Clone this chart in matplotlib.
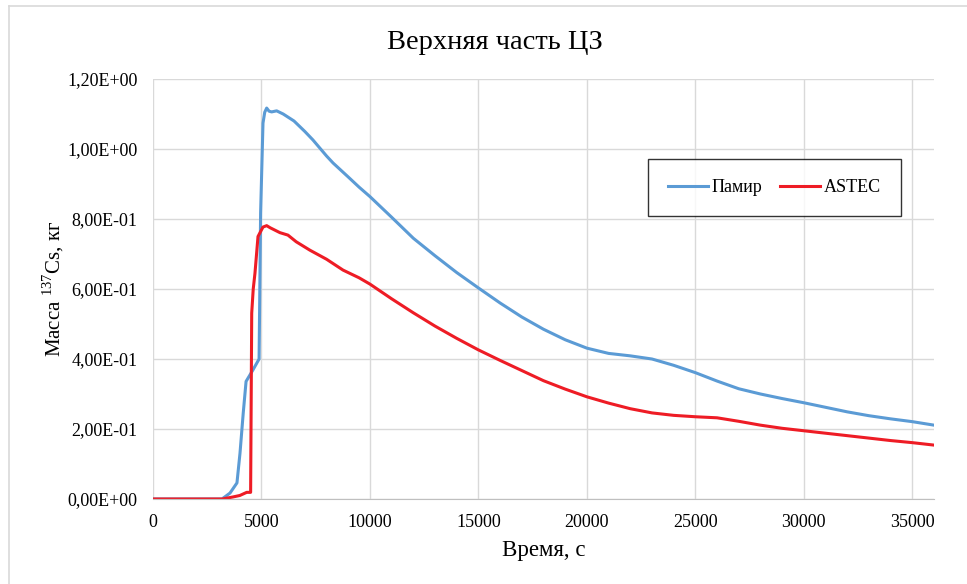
import matplotlib
matplotlib.use('Agg')
import matplotlib.pyplot as plt
from matplotlib.ticker import FuncFormatter, MultipleLocator
from matplotlib.lines import Line2D

# Верхняя часть ЦЗ - масса Cs-137
t_pamir = [0, 3180, 3550, 3870, 4010, 4160, 4290, 4600, 4890, 4960, 5070, 5150,
           5240, 5350, 5470, 5700, 6000, 6500, 7000, 7370, 8000, 8300, 9000, 9500,
           10000, 11000, 12000, 13000, 14000, 15000, 16000, 17000, 18000, 19000,
           20000, 21000, 22000, 23000, 24000, 25000, 26000, 27000, 28000, 29000,
           30000, 31000, 32000, 33000, 34000, 35000, 36000]
m_pamir = [0, 0, 0.017, 0.046, 0.131, 0.246, 0.336, 0.368, 0.40, 0.817, 1.074, 1.105,
           1.117, 1.108, 1.106, 1.109, 1.10, 1.08, 1.05, 1.026, 0.98, 0.96, 0.92, 0.891,
           0.864, 0.805, 0.745, 0.695, 0.647, 0.603, 0.56, 0.52, 0.485, 0.455,
           0.431, 0.416, 0.409, 0.400, 0.382, 0.361, 0.337, 0.315, 0.300, 0.287,
           0.275, 0.262, 0.249, 0.238, 0.229, 0.221, 0.211]

t_astec = [0, 3200, 3700, 4000, 4320, 4500, 4550, 4620, 4700, 4840, 5070, 5240,
           5400, 5850, 6220, 6600, 7230, 8000, 8760, 9500, 10000, 11000, 12000,
           13000, 14000, 15000, 16000, 17000, 18000, 19000, 20000, 21000, 22000,
           23000, 24000, 25000, 26000, 27000, 28000, 29000, 30000, 31000, 32000,
           33000, 34000, 35000, 36000]
m_astec = [0, 0, 0.006, 0.010, 0.019, 0.019, 0.531, 0.60, 0.645, 0.75, 0.777, 0.781,
           0.775, 0.761, 0.754, 0.735, 0.711, 0.685, 0.654, 0.632, 0.614, 0.572, 0.532,
           0.494, 0.459, 0.426, 0.396, 0.367, 0.338, 0.314, 0.292, 0.274, 0.258,
           0.246, 0.239, 0.235, 0.232, 0.222, 0.211, 0.202, 0.195, 0.188, 0.181,
           0.174, 0.167, 0.161, 0.154]

plt.rcParams['font.family'] = ['Liberation Serif', 'DejaVu Serif']
plt.rcParams['mathtext.fontset'] = 'custom'
plt.rcParams['mathtext.rm'] = 'Liberation Serif'

fig = plt.figure(figsize=(9.67, 5.84), dpi=100)
ax = fig.add_axes([153 / 967, 85 / 584, 781 / 967, 420 / 584])

ax.plot(t_pamir, m_pamir, color='#5B9BD5', lw=2.2, label='Памир')
ax.plot(t_astec, m_astec, color='#EE1C25', lw=2.2, label='ASTEC')

ax.set_xlim(0, 36000)
ax.set_ylim(0, 1.2)
ax.xaxis.set_major_locator(MultipleLocator(5000))
ax.yaxis.set_major_locator(MultipleLocator(0.2))
ax.yaxis.set_major_formatter(FuncFormatter(lambda v, p: f'{v:.2E}'.replace('.', ',')))
ax.grid(True, color='#D9D9D9', lw=1)
ax.set_axisbelow(True)
for s in ['top', 'right', 'left']:
    ax.spines[s].set_visible(False)
ax.spines['bottom'].set_color('#BFBFBF')
ax.tick_params(length=0, labelsize=13, pad=11)

ax.set_xlabel('Время, с', fontsize=16.5, labelpad=6)
ax.set_ylabel('Масса $^{137}$Cs, кг', fontsize=15, labelpad=1)
fig.text(0.512, 0.928, 'Верхняя часть ЦЗ', ha='center', va='center', fontsize=20.5)

leg = ax.legend(ncol=2, loc='upper left', bbox_to_anchor=(0.6342, 0.8095),
                fontsize=13, frameon=True, fancybox=False, handlelength=2.2,
                handletextpad=0.2, columnspacing=1.0, borderpad=1.1,
                borderaxespad=0)
leg.get_frame().set_edgecolor('black')
leg.get_frame().set_linewidth(1.0)

# рамка области диаграммы
fig.add_artist(Line2D([9 / 967, 9 / 967], [0, 1 - 6 / 584], color='#D9D9D9', lw=1.2))
fig.add_artist(Line2D([9 / 967, 1], [1 - 6 / 584, 1 - 6 / 584], color='#D9D9D9', lw=1.2))

fig.savefig('out.png', dpi=100)
